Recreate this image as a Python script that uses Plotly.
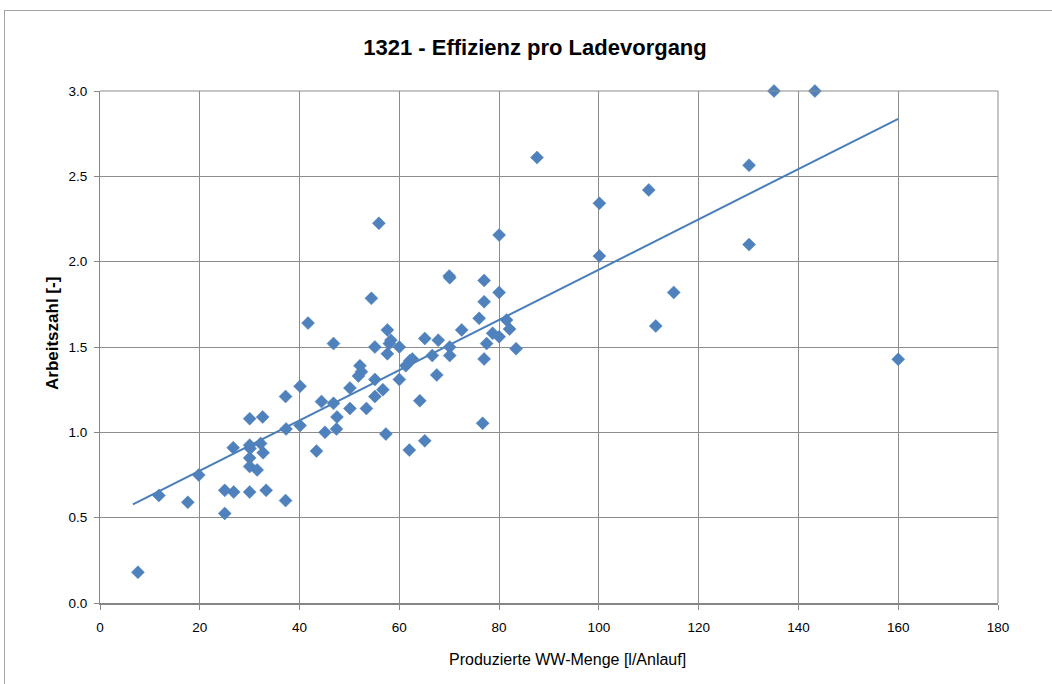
import numpy as np
import plotly.graph_objects as go

# Data
ww_menge = [7.6, 11.8, 17.6, 19.8, 25.0, 25.0, 26.7, 26.8, 30.0, 30.0, 30.1, 30.0, 30.0, 30.0,
            31.5, 32.2, 32.6, 32.7, 33.3, 37.2, 37.3, 37.2, 40.1, 40.1, 41.7, 43.4, 44.4, 45.1,
            46.8, 46.8, 47.5, 47.4, 50.1, 50.1, 51.8, 52.1, 52.4, 53.4, 54.4, 55.1, 55.1, 55.1,
            55.9, 56.7, 57.3, 57.6, 57.6, 58.0, 58.3, 60.0, 60.0, 61.3, 62.0, 62.1, 62.6, 64.1,
            65.1, 65.1, 66.6, 67.5, 67.8, 70.0, 70.1, 70.1, 70.1, 72.5, 76.0, 76.7, 77.0, 77.0,
            77.0, 77.5, 78.7, 80.0, 80.0, 80.0, 81.5, 82.1, 83.4, 87.6, 100.1, 100.1, 110.0,
            111.4, 115.0, 130.1, 130.1, 135.1, 143.3, 160.0]
arbeitszahl = [0.18, 0.63, 0.59, 0.75, 0.66, 0.525, 0.91, 0.65, 1.08, 0.925, 0.906, 0.85, 0.80, 0.65,
               0.78, 0.935, 1.09, 0.88, 0.66, 0.60, 1.02, 1.21, 1.04, 1.27, 1.64, 0.89, 1.18, 1.00,
               1.52, 1.17, 1.09, 1.02, 1.26, 1.14, 1.33, 1.39, 1.355, 1.14, 1.785, 1.50, 1.31, 1.21,
               2.225, 1.25, 0.99, 1.60, 1.46, 1.52, 1.54, 1.50, 1.31, 1.39, 0.896, 1.42, 1.43, 1.185,
               1.55, 0.95, 1.45, 1.336, 1.54, 1.916, 1.906, 1.50, 1.45, 1.60, 1.668, 1.053, 1.89, 1.765,
               1.43, 1.52, 1.58, 2.156, 1.82, 1.56, 1.658, 1.605, 1.49, 2.61, 2.342, 2.033, 2.42,
               1.623, 1.82, 2.565, 2.10, 3.0, 3.0, 1.428]

title_text = "1321 - Effizienz pro Ladevorgang"
x_title = "Produzierte WW-Menge [l/Anlauf]"
y_title = "Arbeitszahl [-]"
x_ticks = [0, 20, 40, 60, 80, 100, 120, 140, 160, 180]
y_ticks = [0.0, 0.5, 1.0, 1.5, 2.0, 2.5, 3.0]

# Linear trendline (least squares, as in the spreadsheet)
slope, intercept = np.polyfit(ww_menge, arbeitszahl, 1)
trend_x = [min(ww_menge) - 1.0, max(ww_menge)]
trend_y = [slope * v + intercept for v in trend_x]

FONT = "Liberation Sans, Arial, sans-serif"
GRID = "#8C8C8C"

fig = go.Figure()
fig.add_trace(go.Scatter(
    x=trend_x, y=trend_y, mode="lines",
    line=dict(color="#4A7EBB", width=2), showlegend=False, hoverinfo="skip"))
fig.add_trace(go.Scatter(
    x=ww_menge, y=arbeitszahl, mode="markers",
    marker=dict(symbol="diamond", size=10, color="#4F81BD",
                line=dict(width=0.5, color="#4F81BD")),
    cliponaxis=False, showlegend=False))

fig.update_layout(
    width=1052, height=684,
    margin=dict(l=100, r=54, t=91, b=81),
    paper_bgcolor="white", plot_bgcolor="white",
    font=dict(family=FONT, color="#000000", size=13),
    title=dict(text="<b>" + title_text + "</b>", x=535 / 1052, xanchor="center",
               y=1 - 47 / 684, yanchor="middle", font=dict(size=22, family=FONT, color="#000000")),
    xaxis=dict(range=[0, 180], tickvals=x_ticks, ticktext=[str(v) for v in x_ticks],
               showgrid=True, gridcolor=GRID, gridwidth=1, zeroline=False,
               showline=True, linecolor="#868686", linewidth=2, mirror=False,
               ticks="outside", ticklen=5, tickcolor="#868686", ticklabelstandoff=6,
               tickfont=dict(size=13.5, family=FONT, color="#000000"), fixedrange=True),
    yaxis=dict(range=[0, 3], tickvals=y_ticks, ticktext=[f"{v:.1f}" for v in y_ticks],
               showgrid=True, gridcolor=GRID, gridwidth=1, zeroline=False,
               showline=True, linecolor="#868686", linewidth=1,
               ticks="outside", ticklen=5, tickcolor="#868686", ticklabelstandoff=4,
               tickfont=dict(size=13.5, family=FONT, color="#000000"), fixedrange=True),
    annotations=[
        dict(text=x_title, xref="paper", yref="paper", x=(567 - 100) / 898, y=(603 - 659) / 512,
             xanchor="center", yanchor="middle", showarrow=False,
             font=dict(size=16, family=FONT, color="#000000")),
        dict(text="<b>" + y_title + "</b>", xref="paper", yref="paper", x=(52 - 100) / 898,
             y=(603 - 334) / 512,
             xanchor="center", yanchor="middle", showarrow=False, textangle=-90,
             font=dict(size=17, family=FONT, color="#000000")),
    ],
    shapes=[
        dict(type="line", xref="paper", yref="paper", x0=(4 - 100) / 898, x1=(1060 - 100) / 898,
             y0=(603 - 10.5) / 512, y1=(603 - 10.5) / 512, line=dict(color="#A6A6A6", width=1)),
        dict(type="line", xref="paper", yref="paper", x0=(4.5 - 100) / 898, x1=(4.5 - 100) / 898,
             y0=(603 - 10.5) / 512, y1=(603 - 700) / 512, line=dict(color="#A6A6A6", width=1)),
        dict(type="line", xref="paper", yref="paper", x0=1, x1=1, y0=0, y1=1,
             line=dict(color=GRID, width=1)),
        dict(type="line", xref="paper", yref="paper", x0=0, x1=1, y0=1, y1=1,
             line=dict(color=GRID, width=1)),
    ],
)

fig.write_html("out.html", config={"displayModeBar": False},
               post_script="document.body.style.margin='0';document.body.style.padding='0';")
